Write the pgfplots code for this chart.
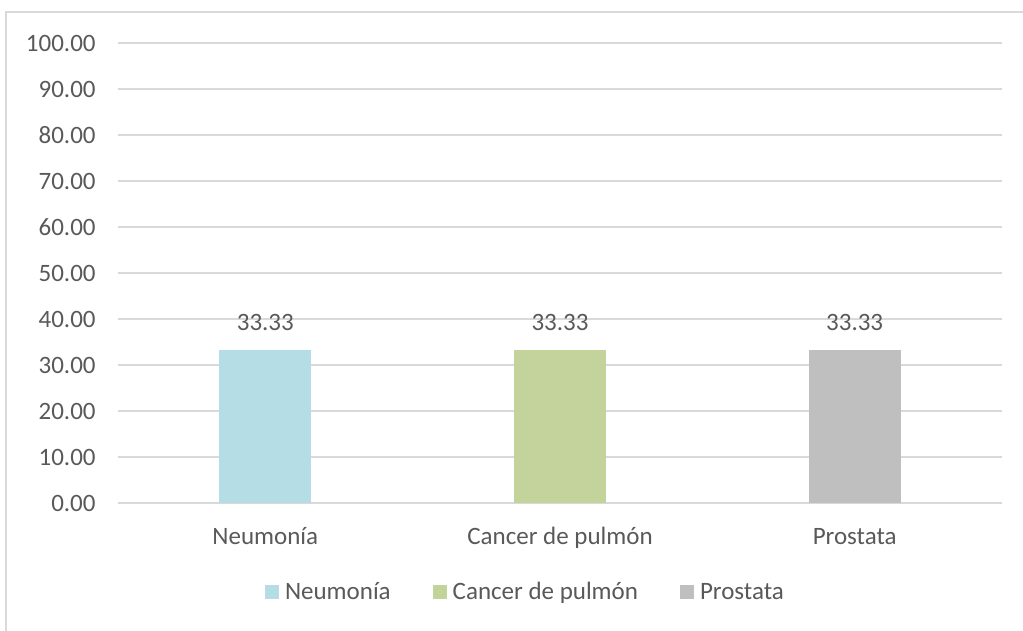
\documentclass[border=0pt]{standalone}
\usepackage{fontspec}
\setmainfont{Carlito}
\usepackage{pgfplots}
\pgfplotsset{compat=1.18}

\definecolor{gridc}{HTML}{D9D9D9}
\definecolor{textc}{HTML}{595959}
\definecolor{neum}{HTML}{B4DDE6}
\definecolor{canc}{HTML}{C4D39B}
\definecolor{pros}{HTML}{BFBFBF}

\newcommand{\lbl}{\fontsize{12.5}{15}\selectfont}

\begin{document}
\begin{tikzpicture}
\useasboundingbox (-59pt,-64pt) rectangle (452.5pt,251.5pt);
\draw[gridc, line width=1pt] (-56pt,-70pt) -- (-56pt,245.5pt) -- (460pt,245.5pt);
\begin{axis}[
    scale only axis,
    width=442pt, height=230pt,
    xmin=-0.5, xmax=2.5,
    ymin=0, ymax=100,
    axis line style={draw=none},
    major tick length=0pt,
    ytick={0,10,...,100},
    xtick={0,1,2},
    xticklabels={Neumonía, Cancer de pulmón, Prostata},
    ymajorgrids=true,
    grid style={gridc, line width=1pt},
    /pgf/number format/assume math mode=true,
    /pgf/number format/fixed,
    /pgf/number format/fixed zerofill,
    /pgf/number format/precision=2,
    tick label style={font=\lbl, text=textc},
    yticklabel style={inner sep=0pt, xshift=-11pt},
    xticklabel style={anchor=base, inner sep=0pt, yshift=-21pt},
    ybar, bar width=46pt, bar shift=0pt,
    nodes near coords,
    nodes near coords style={font=\lbl, text=textc, anchor=base, inner sep=0pt, yshift=9.5pt},
    legend style={at={(0.462,-0.195)}, anchor=center, draw=none, font=\lbl, text=textc,
        legend columns=-1,
        /tikz/every odd column/.append style={column sep=1pt},
        /tikz/every even column/.append style={column sep=19pt}},
    legend image code/.code={\fill[#1] (0pt,-3.2pt) rectangle (7pt,3.8pt);},
  ]
  \addplot[fill=neum, draw=none] coordinates {(0,33.33)};
  \addlegendentry{Neumonía}
  \addplot[fill=canc, draw=none] coordinates {(1,33.33)};
  \addlegendentry{Cancer de pulmón}
  \addplot[fill=pros, draw=none] coordinates {(2,33.33)};
  \addlegendentry{Prostata}
\end{axis}
\end{tikzpicture}
\end{document}
